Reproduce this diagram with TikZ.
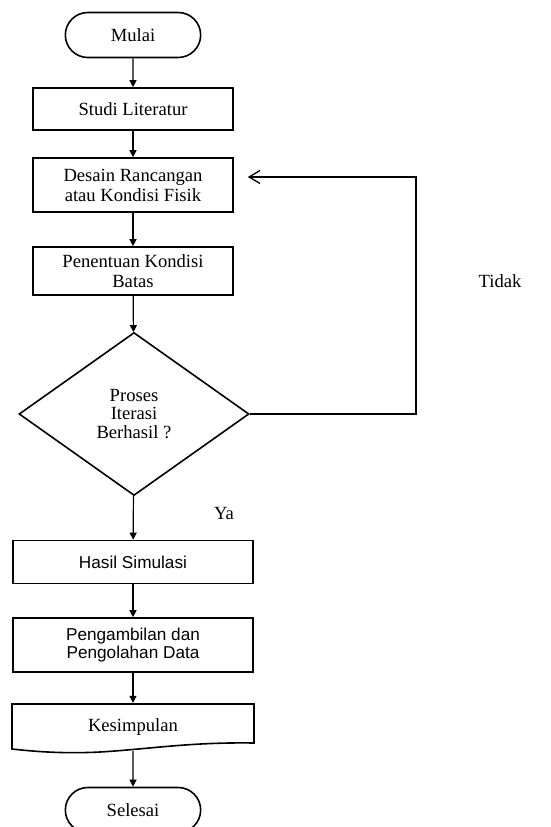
\documentclass[tikz,border=0pt]{standalone}
\usepackage{fontspec}
\setmainfont{Liberation Serif}
\newfontfamily\arialfont{Liberation Sans}
\usetikzlibrary{shapes.geometric,shapes.misc,arrows.meta}
\tikzset{
	garis/.style={line width=1.6pt},
	teks/.style={font=\fontsize{18.6}{20}\selectfont, align=center},
	kotak/.style={garis, teks, draw, rectangle, minimum width=200pt},
	kotakb/.style={kotak, minimum width=240pt, font=\arialfont\fontsize{17.2}{17.5}\selectfont},
	ujung/.style={garis, teks, draw, rounded rectangle, minimum width=142pt, minimum height=45pt},
	keputusan/.style={garis, teks, draw, diamond, minimum width=230pt, minimum height=163pt, inner sep=0pt, font=\fontsize{18.6}{18.5}\selectfont},
	panah/.style={line width=1.2pt, -{Triangle[length=7pt,width=7pt]}},
	balik/.style={line width=1.3pt, -{Straight Barb[length=11pt,width=13pt]}, shorten >=14pt}
}
\begin{document}
\begin{tikzpicture}[x=1pt, y=-1pt]
		\useasboundingbox (0,0) rectangle (550,827);
		\node[ujung] (mulai) at (133,35) {Mulai};
		\node[kotak, minimum height=42pt] (studi) at (133,109) {Studi Literatur};
		\node[kotak, minimum height=54pt] (desain) at (133,185) {Desain Rancangan\\atau Kondisi Fisik};
		\node[kotak, minimum height=48pt] (tentu) at (133,271) {Penentuan Kondisi\\Batas};
		\node[keputusan] (cek) at (134,414) {Proses\\Iterasi\\Berhasil ?};
		\node[kotakb, minimum height=43pt] (hasil) at (133,562) {Hasil Simulasi};
		\node[kotakb, minimum height=54pt] (olah) at (133,645) {Pengambilan dan\\Pengolahan Data};
		\node[teks, minimum width=242pt, minimum height=48pt] (simpul) at (133,727) {Kesimpulan};
		\node[ujung] (selesai) at (133,810) {Selesai};

		\node[teks] (tidak) at (500,281) {Tidak};
		\node[teks] (ya) at (224,513) {Ya};
		\coordinate (belok) at (416,177);

		% dokumen dengan sisi bawah bergelombang
		\draw[garis] (12,704) -- (254,704) -- (254,743)
			.. controls (190,742) and (150,749) .. (100,752)
			.. controls (60,754) and (30,751) .. (12,749) -- cycle;

		\draw[panah] (mulai) edge (studi);
		\draw[panah] (studi) edge (desain);
		\draw[panah] (desain) edge (tentu);
		\draw[panah] (tentu) edge (cek);
		\draw[panah] (cek) edge (hasil);
		\draw[panah] (hasil) edge (olah);
		\draw[panah] (olah) edge (simpul);
		\draw[panah] (simpul) edge (selesai);

		\draw[balik] (cek.east) -| (belok) -- (belok -| desain.east);
	\end{tikzpicture}
\end{document}
